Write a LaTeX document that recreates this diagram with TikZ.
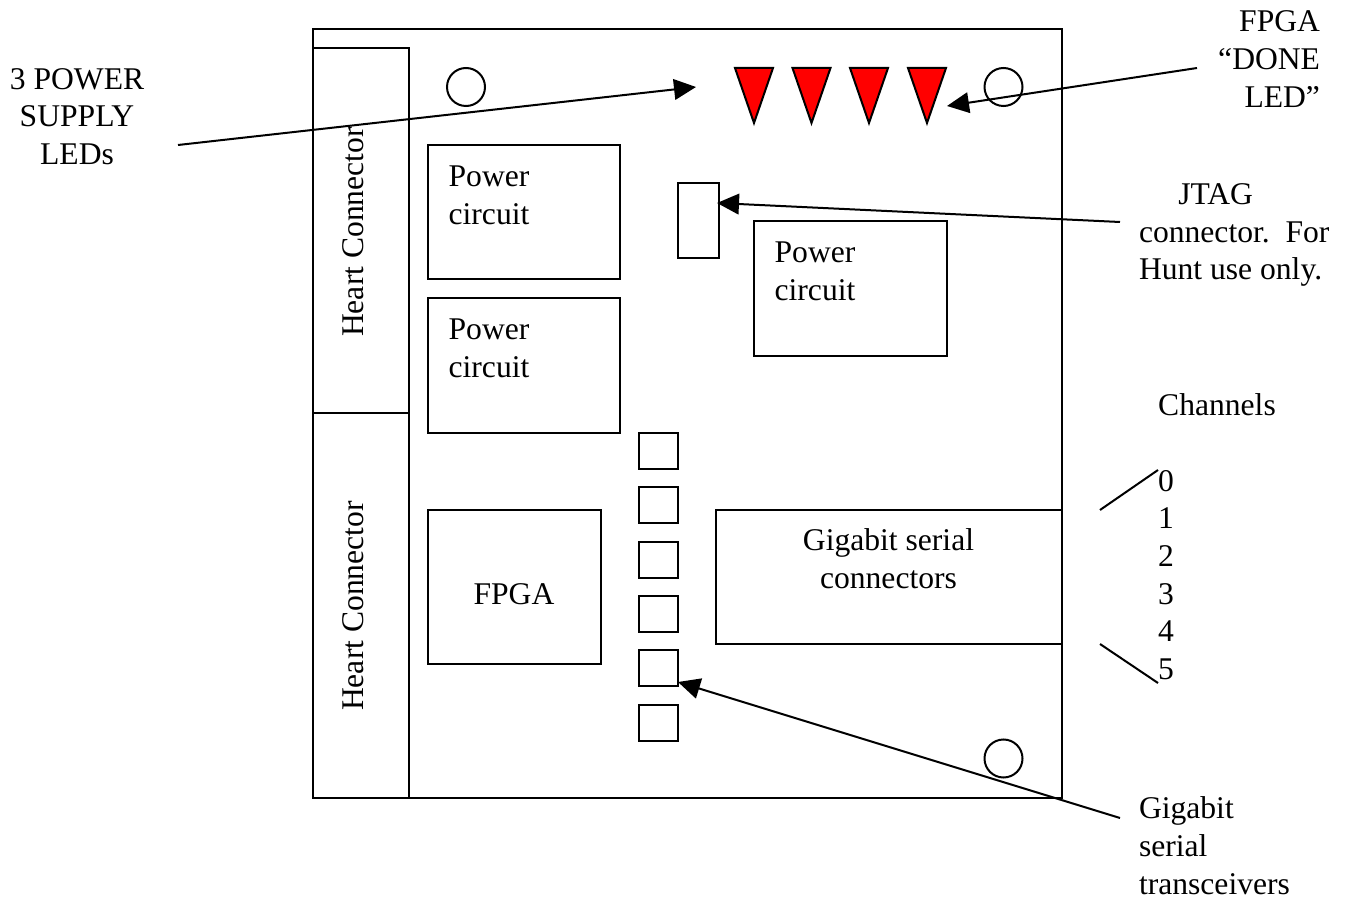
\documentclass[tikz,border=0pt]{standalone}
\usepackage{fontspec}
\setmainfont{Liberation Serif}
\usetikzlibrary{arrows.meta,fit}
\tikzset{
  x=0.75pt,y=-0.75pt,
  line/.style={draw=black,line width=1.5pt},
  box/.style={line,inner sep=0pt,outer sep=0pt,rectangle},
  hole/.style={line,circle,inner sep=0pt,outer sep=0pt,minimum size=28.5pt},
  led/.style={line,fill=red,line join=miter},
  lead/.style={draw=black,line width=1.5pt},
  arr/.style={lead,-{Triangle[length=16.5pt,width=15.5pt]}},
  txt/.style={inner sep=0pt,outer sep=0pt,font=\fontsize{23.7pt}{28.3pt}\selectfont},
}
\begin{document}
\begin{tikzpicture}
\useasboundingbox (0,0) rectangle (1350,902);
\node[box,fit={(312.5,29.5)(1061.5,797.5)}] (board) {};
\node[box,fit={(312.5,48)(409,413)}] (hc1) {};
\node[box,fit={(312.5,413)(409,797.5)}] (hc2) {};
\node[txt,rotate=90] (hc1t) at (353,232) {Heart Connector};
\node[txt,rotate=90] (hc2t) at (353,606) {Heart Connector};
\node[hole] (h1) at (466,87) {};
\node[hole] (h2) at (1003.5,87) {};
\node[hole] (h3) at (1003.5,758.5) {};
\draw[led] (735,68) -- (773,68) -- (754,123) -- cycle;
\draw[led] (792.5,68) -- (830.5,68) -- (811.5,123) -- cycle;
\draw[led] (850,68) -- (888,68) -- (869,123) -- cycle;
\draw[led] (908,68) -- (946,68) -- (927,123) -- cycle;
\node[box,fit={(428,145)(620,279)}] (p1) {};
\node[box,fit={(428,298.5)(620,433)}] (p2) {};
\node[box,fit={(754,221.5)(946.5,356)}] (p3) {};
\node[box,fit={(677.5,183)(719,258.5)}] (jtag) {};
\node[box,fit={(428,510)(601,663.5)}] (fpga) {};
\node[box,fit={(716,510)(1061.5,644)}] (gsc) {};
\node[box,fit={(639,433)(678,469)}] (s1) {};
\node[box,fit={(639,487)(678,523)}] (s2) {};
\node[box,fit={(639,541.5)(678,577.5)}] (s3) {};
\node[box,fit={(639,596)(678,632)}] (s4) {};
\node[box,fit={(639,650)(678,686)}] (s5) {};
\node[box,fit={(639,705)(678,741)}] (s6) {};
\node[txt,align=left] (p1t) at (489,195) {Power\\circuit};
\node[txt,align=left] (p2t) at (489,348) {Power\\circuit};
\node[txt,align=left] (p3t) at (815,271) {Power\\circuit};
\node[txt] (fpgat) at (514,594) {FPGA};
\node[txt,align=center] (gsct) at (888.5,559) {Gigabit serial\\connectors};
\node[txt,align=center] (psu) at (77,116.5) {3 POWER\\SUPPLY\\LEDs};
\node[txt,align=right,anchor=east] (done) at (1320,59) {FPGA\\“DONE\\LED”};
\node[txt,align=left,anchor=west] (jt) at (1139,235) {\hspace{29.5pt}JTAG\\connector.\ \ For\\Hunt use only.};
\node[txt] (chan) at (1217,405) {Channels};
\node[txt,align=left,anchor=north west] (nums) at (1158,470) {0\\1\\2\\3\\4\\5};
\node[txt,align=left,anchor=west] (tr) at (1139,845.5) {Gigabit\\serial\\transceivers};
\coordinate (a1s) at (178,145);
\coordinate (a1e) at (696,87);
\coordinate (a2s) at (1197,68);
\coordinate (a2e) at (947,106);
\coordinate (a3s) at (1120,222);
\coordinate (a3e) at (717,203);
\coordinate (a4s) at (1120,818);
\coordinate (a4e) at (678,682);
\coordinate (l1a) at (1100,510);
\coordinate (l1b) at (1158,470);
\coordinate (l2a) at (1100,644);
\coordinate (l2b) at (1158,683);
\draw[arr] (a1s) -- (a1e);
\draw[arr] (a2s) -- (a2e);
\draw[arr] (a3s) -- (a3e);
\draw[arr] (a4s) -- (a4e);
\draw[lead] (l1a) -- (l1b);
\draw[lead] (l2a) -- (l2b);
\end{tikzpicture}
\end{document}
